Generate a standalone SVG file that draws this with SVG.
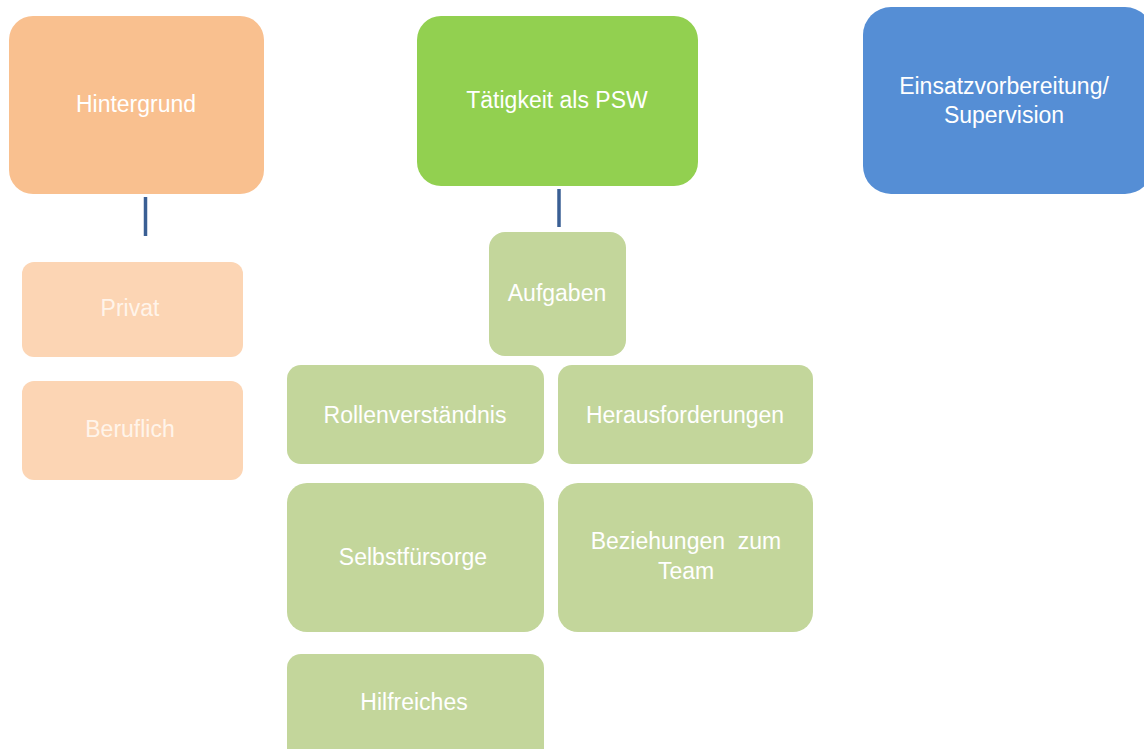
<svg xmlns="http://www.w3.org/2000/svg" width="1144" height="749" viewBox="0 0 1144 749">
<style>
text{font-family:"Liberation Sans",Arial,sans-serif;font-size:23px;fill:#ffffff;text-anchor:middle;dominant-baseline:central}
.faint{fill:#fff4ea}
.lg{fill:#c3d69b}
.conn{stroke:#3a5f94;stroke-width:3.5}
</style>
<rect width="1144" height="749" fill="#ffffff"/>
<g id="connectors">
<line class="conn" x1="145.5" y1="197" x2="145.5" y2="236"/>
<line class="conn" x1="559" y1="189" x2="559" y2="227"/>
</g>
<g id="hintergrund"><rect x="9" y="16" width="255" height="178" rx="24" fill="#f9c08f"/><text x="136" y="104">Hintergrund</text></g>
<g id="taetigkeit"><rect x="417" y="16" width="281" height="170" rx="24" fill="#92d050"/><text x="557" y="100">Tätigkeit als PSW</text></g>
<g id="einsatz"><rect x="863" y="7" width="290" height="187" rx="28" fill="#558ed5"/><text x="1004" y="86">Einsatzvorbereitung/</text><text x="1004" y="115">Supervision</text></g>
<g id="privat"><rect x="22" y="262" width="221" height="95" rx="12" fill="#fcd5b4"/><text class="faint" x="130" y="308">Privat</text></g>
<g id="beruflich"><rect x="22" y="381" width="221" height="99" rx="12" fill="#fcd5b4"/><text class="faint" x="130" y="429">Beruflich</text></g>
<g id="aufgaben"><rect class="lg" x="489" y="232" width="137" height="124" rx="16"/><text x="557" y="293">Aufgaben</text></g>
<g id="rollen"><rect class="lg" x="287" y="365" width="257" height="99" rx="14"/><text x="415" y="415">Rollenverständnis</text></g>
<g id="heraus"><rect class="lg" x="558" y="365" width="255" height="99" rx="14"/><text x="685" y="415">Herausforderungen</text></g>
<g id="selbst"><rect class="lg" x="287" y="483" width="257" height="149" rx="20"/><text x="413" y="557">Selbstfürsorge</text></g>
<g id="bezieh"><rect class="lg" x="558" y="483" width="255" height="149" rx="20"/><text x="686" y="541" xml:space="preserve">Beziehungen  zum</text><text x="686" y="571">Team</text></g>
<g id="hilf"><rect class="lg" x="287" y="654" width="257" height="110" rx="14"/><text x="414" y="702">Hilfreiches</text></g>
</svg>
